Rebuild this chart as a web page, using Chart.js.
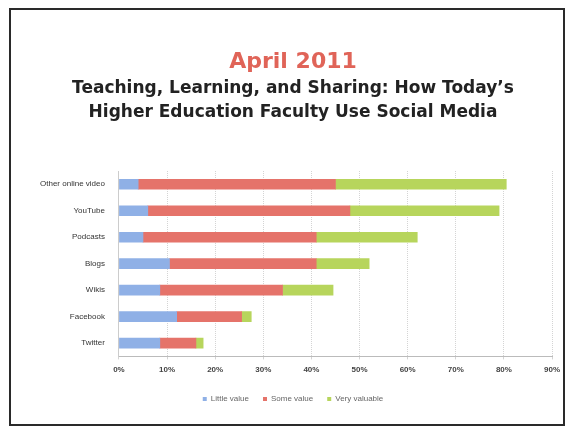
<!DOCTYPE html>
<html>
<head>
<meta charset="utf-8">
<script src="https://cdn.jsdelivr.net/npm/chart.js@4"></script>
<style>
html,body{margin:0;padding:0;background:#fff;}
#wrap{position:relative;width:568px;height:431px;overflow:hidden;background:#fff;}
#frame{position:absolute;left:9px;top:8px;width:556px;height:418px;border:2px solid #2a2a2a;box-sizing:border-box;pointer-events:none;}
canvas{position:absolute;left:0;top:0;}
</style>
</head>
<body>
<div id="wrap">
<canvas id="c" width="568" height="431"></canvas>
<div id="frame"></div>
</div>
<script>
const categories = ["Other online video","YouTube","Podcasts","Blogs","Wikis","Facebook","Twitter"];
const littleValue = [4, 6, 5, 10.5, 8.5, 12, 8.5];
const someValue = [41, 42, 36, 30.5, 25.5, 13.5, 7.5];
const veryValuable = [35.5, 31, 21, 11, 10.5, 2, 1.5];
const seriesNames = ["Little value","Some value","Very valuable"];
const xMax = 90;
const xStep = 10;

new Chart(document.getElementById('c'), {
  type: 'bar',
  data: {
    labels: categories,
    datasets: [
      {label: seriesNames[0], data: littleValue, backgroundColor: '#8fb0e6'},
      {label: seriesNames[1], data: someValue, backgroundColor: '#e5736a'},
      {label: seriesNames[2], data: veryValuable, backgroundColor: '#b7d55c'}
    ]
  },
  options: {
    indexAxis: 'y',
    responsive: false,
    animation: false,
    devicePixelRatio: 1,
    datasets: {bar: {barThickness: 10}},
    layout: {padding: {left: 34, right: 16, top: 49, bottom: 18}},
    scales: {
      x: {
        stacked: true, min: 0, max: xMax,
        ticks: {stepSize: xStep, callback: v => v + '%', color: '#444', padding: 6,
                font: {family: 'Liberation Sans', size: 8, weight: 'bold'}},
        grid: {color: '#d4d4d4', drawTicks: true, tickLength: 3},
        border: {color: '#bbb', dash: [1, 1]}
      },
      y: {
        stacked: true,
        ticks: {color: '#333', padding: 6, font: {family: 'Liberation Sans', size: 8}},
        grid: {display: false},
        border: {color: '#ccc'}
      }
    },
    plugins: {
      title: {display: true, text: 'April 2011', color: '#e06458',
              font: {family: 'DejaVu Sans', size: 22, weight: 'bold'}, padding: {top: 0, bottom: 1}},
      subtitle: {display: true,
                 text: ['Teaching, Learning, and Sharing: How Today\u2019s', 'Higher Education Faculty Use Social Media'],
                 color: '#222', font: {family: 'DejaVu Sans', size: 17, weight: 'bold', lineHeight: 1.4},
                 padding: {top: 0, bottom: 47}},
      legend: {position: 'bottom',
               labels: {boxWidth: 4, boxHeight: 4, padding: 14, color: '#666',
                        font: {family: 'Liberation Sans', size: 8}}},
      tooltip: {enabled: false}
    }
  }
});
</script>
</body>
</html>
